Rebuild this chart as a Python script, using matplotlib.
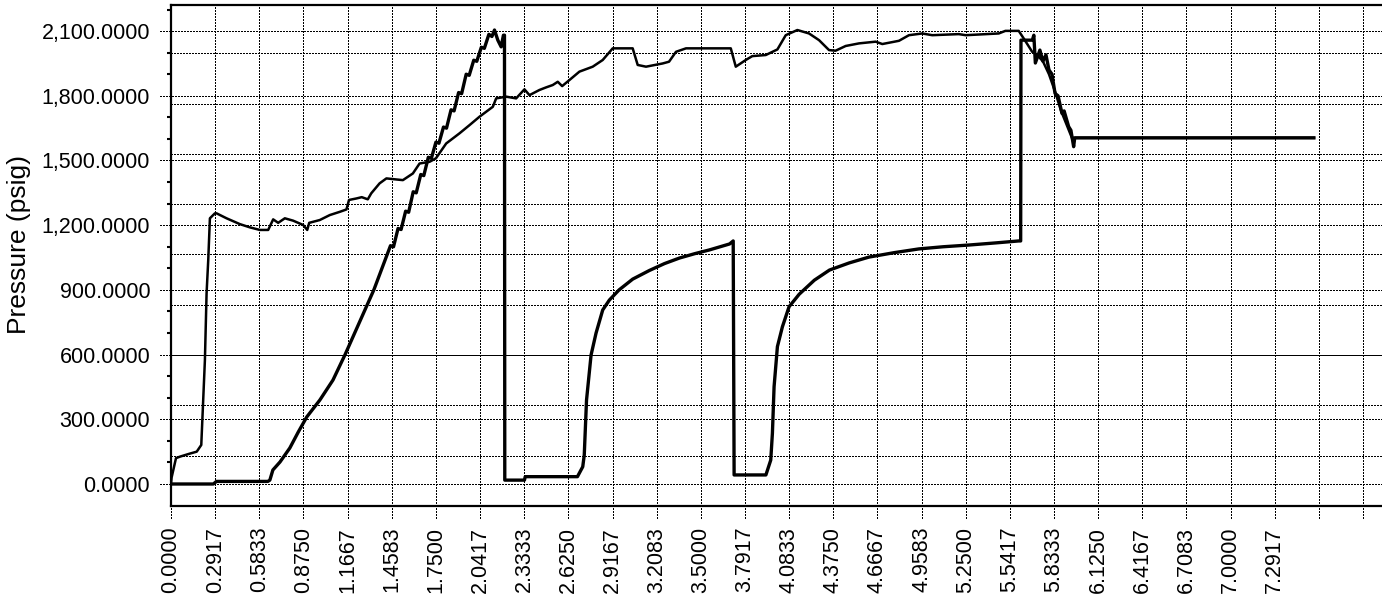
import matplotlib
matplotlib.use("Agg")
import matplotlib.pyplot as plt
from matplotlib.ticker import FuncFormatter

plt.rcParams["font.family"] = ["Liberation Sans", "DejaVu Sans"]

# thin trace
time_a = [0.0, 0.004, 0.033, 0.06, 0.12, 0.17, 0.2, 0.224, 0.235, 0.246, 0.257, 0.29,
          0.301, 0.367, 0.455, 0.521, 0.587, 0.642, 0.675, 0.708, 0.752, 0.807, 0.873,
          0.9, 0.913, 0.983, 1.049, 1.115, 1.159, 1.176, 1.225, 1.26, 1.3, 1.323, 1.378,
          1.423, 1.489, 1.532, 1.598, 1.642, 1.708, 1.75, 1.818, 1.906, 1.972, 2.038,
          2.126, 2.148, 2.214, 2.28, 2.335, 2.368, 2.434, 2.478, 2.522, 2.555, 2.584,
          2.632, 2.698, 2.786, 2.852, 2.918, 3.05, 3.083, 3.138, 3.248, 3.29, 3.336,
          3.402, 3.698, 3.731, 3.797, 3.84, 3.929, 4.006, 4.061, 4.138, 4.215, 4.281,
          4.347, 4.39, 4.457, 4.545, 4.655, 4.699, 4.809, 4.875, 4.963, 5.029, 5.204,
          5.25, 5.468, 5.512, 5.6, 5.633, 5.689, 5.72, 5.76, 5.8, 5.84, 5.88, 5.92,
          5.96, 5.97, 7.55]
press_a = [0, 30, 120, 127, 140, 150, 181, 575, 884, 1038, 1232, 1255,
           1255, 1232, 1205, 1190, 1178, 1178, 1227, 1211, 1232, 1221, 1201,
           1178, 1211, 1224, 1247, 1262, 1273, 1317, 1324, 1330, 1320, 1348, 1394,
           1417, 1412, 1409, 1440, 1486, 1494, 1510, 1579, 1626, 1664, 1703,
           1749, 1788, 1796, 1788, 1830, 1803, 1827, 1839, 1850, 1865, 1845,
           1873, 1912, 1935, 1966, 2020, 2020, 1943, 1935, 1950, 1958, 2004,
           2020, 2020, 1935, 1966, 1984, 1989, 2015, 2081, 2105, 2089, 2058,
           2012, 2009, 2031, 2043, 2051, 2040, 2055, 2081, 2089, 2081, 2086,
           2081, 2089, 2101, 2101, 2066, 2004, 1990, 1960, 1900, 1820, 1730, 1660,
           1590, 1605, 1605]

# thick trace
time_b = [0.0, 0.28, 0.30, 0.64, 0.653, 0.673, 0.72, 0.785, 0.84, 0.897, 0.983, 1.07,
          1.15, 1.34, 1.45, 1.47, 1.50, 1.52, 1.55, 1.57, 1.60, 1.62, 1.65, 1.67, 1.70,
          1.72, 1.75, 1.77, 1.80, 1.82, 1.85, 1.87, 1.90, 1.92, 1.95, 1.97, 2.00, 2.02,
          2.05, 2.07, 2.10, 2.12, 2.137, 2.159, 2.181, 2.196, 2.203, 2.205, 2.335, 2.34,
          2.685, 2.72, 2.73, 2.745, 2.775, 2.808, 2.852, 2.896, 2.96, 3.05, 3.16, 3.26,
          3.36, 3.46, 3.555, 3.69, 3.714, 3.72, 3.93, 3.962, 3.973, 3.984, 4.006, 4.039,
          4.083, 4.15, 4.25, 4.35, 4.48, 4.61, 4.78, 4.94, 5.1, 5.27, 5.45, 5.6, 5.613,
          5.615, 5.645, 5.69, 5.70, 5.71, 5.74, 5.76, 5.78, 5.80, 5.82, 5.84, 5.86,
          5.886, 5.90, 5.93, 5.945, 5.963, 5.97, 7.55]
press_b = [0, 0, 12, 12, 18, 65, 102, 167, 240, 311, 389, 482,
           600, 900, 1105, 1100, 1185, 1180, 1265, 1260, 1355, 1350, 1435, 1430, 1515,
           1510, 1585, 1580, 1655, 1650, 1735, 1730, 1815, 1810, 1900, 1895, 1965, 1960,
           2025, 2020, 2085, 2075, 2105, 2058, 2027, 2081, 2081, 18, 18, 34,
           34, 80, 134, 389, 598, 700, 807, 853, 900, 950, 990, 1022,
           1048, 1068, 1085, 1113, 1127, 42, 42, 111, 236, 451, 637, 729,
           822, 880, 945, 992, 1025, 1052, 1073, 1090, 1100, 1108, 1118, 1127, 1127,
           2058, 2058, 2058, 2081, 1952, 2012, 1960, 1990, 1920, 1900, 1811, 1800,
           1718, 1730, 1657, 1640, 1564, 1605, 1605]

x_ticks = [0.0, 0.2917, 0.5833, 0.875, 1.1667, 1.4583, 1.75, 2.0417, 2.3333, 2.625,
           2.9167, 3.2083, 3.5, 3.7917, 4.0833, 4.375, 4.6667, 4.9583, 5.25, 5.5417,
           5.8333, 6.125, 6.4167, 6.7083, 7.0, 7.2917, 7.5833, 7.875]
x_labels = ["0.0000", "0.2917", "0.5833", "0.8750", "1.1667", "1.4583", "1.7500",
            "2.0417", "2.3333", "2.6250", "2.9167", "3.2083", "3.5000", "3.7917",
            "4.0833", "4.3750", "4.6667", "4.9583", "5.2500", "5.5417", "5.8333",
            "6.1250", "6.4167", "6.7083", "7.0000", "7.2917", "", ""]
y_ticks = [0, 300, 600, 900, 1200, 1500, 1800, 2100]
y_minor = [100, 200, 400, 500, 700, 800, 1000, 1100, 1300, 1400, 1600, 1700,
           1900, 2000, 2200]
# second set of grid rows (axes fraction), from a hidden scale
grid_rows = [0.1004, 0.2008, 0.3012, 0.4016, 0.502, 0.6024, 0.7028, 0.8032, 0.9036]

fig = plt.figure(figsize=(13.82, 6), dpi=100)
ax = fig.add_axes([171 / 1382, 94 / 600, 1211 / 1382, 501 / 600])

ax.plot(time_a, press_a, color="black", linewidth=1.8, zorder=3)
ax.plot(time_b, press_b, color="black", linewidth=2.4, zorder=3)

ax.set_xlim(0, 8)
ax.set_ylim(-102, 2221)

dots = (0, (1.4, 1.1))
grid_kw = dict(color="black", linewidth=1.0, linestyle=dots, antialiased=False, zorder=1)
for t in x_ticks:
    ax.axvline(t, ymin=-0.024, ymax=1, clip_on=False, **grid_kw)
for v in y_ticks:
    ax.axhline(v, xmin=-0.009, xmax=1, clip_on=False, **grid_kw)
for f in grid_rows:
    ax.plot([0, 1], [f, f], transform=ax.transAxes, **grid_kw)

ax.set_xticks(x_ticks)
ax.set_xticklabels(x_labels, rotation=90)
ax.set_yticks(y_ticks)
ax.set_yticks(y_minor, minor=True)
ax.yaxis.set_major_formatter(FuncFormatter(lambda v, p: f"{v:,.4f}"))
ax.tick_params(axis="both", which="major", length=0, pad=15, labelsize=15.5)
ax.tick_params(axis="y", which="minor", length=3, width=1.5, pad=2)

for side in ["top", "left", "bottom"]:
    ax.spines[side].set_linewidth(1.6)
ax.spines["right"].set_visible(False)

fig.text(19 / 1382, 1 - 244 / 600, "Pressure (psig)", rotation=90,
         ha="center", va="center", fontsize=19)

fig.savefig("out.png", dpi=100)
